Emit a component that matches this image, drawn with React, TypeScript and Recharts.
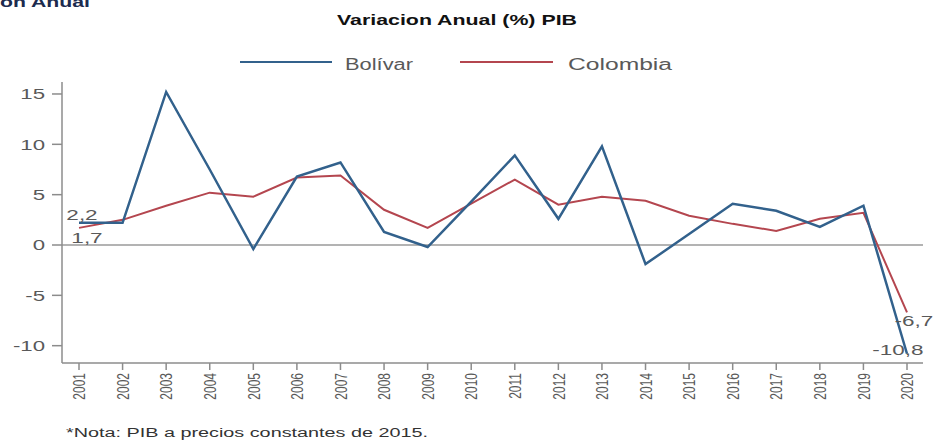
import React from 'react';
import { LineChart, Line, XAxis, YAxis, ReferenceLine, LabelList } from 'recharts';

const years = ['2001','2002','2003','2004','2005','2006','2007','2008','2009','2010','2011','2012','2013','2014','2015','2016','2017','2018','2019','2020'];
const bolivar = [2.2, 2.2, 15.2, 7.5, -0.4, 6.8, 8.2, 1.3, -0.2, 4.3, 8.9, 2.6, 9.8, -1.9, 1.1, 4.1, 3.4, 1.8, 3.9, -10.8];
const colombia = [1.7, 2.5, 3.9, 5.2, 4.8, 6.7, 6.9, 3.5, 1.7, 4.1, 6.5, 4.0, 4.8, 4.4, 2.9, 2.1, 1.4, 2.6, 3.2, -6.7];
const yTicks = [-10, -5, 0, 5, 10, 15];
const seriesNames = ['Bolívar', 'Colombia'];
const title = 'Variacion Anual (%) PIB';
const header = 'on Anual';
const note = '*Nota: PIB a precios constantes de 2015.';

const data = years.map((y, i) => ({ year: y, bolivar: bolivar[i], colombia: colombia[i] }));

const FONT = '"Liberation Sans", Arial, sans-serif';
const TXT = '#595959';
const AXIS = '#8c8c8c';
const BLUE = '#32618c';
const RED = '#b4464f';

const fmt = (v: number) => String(v).replace('.', ',');

const YTick = (props: any) => {
  const { x, y, payload } = props;
  return (
    <text transform={`translate(${x},${y}) scale(1.48,1)`} textAnchor="end" dy="0.36em"
      fontSize={15} fill={TXT} fontFamily={FONT}>{payload.value}</text>
  );
};

const XTick = (props: any) => {
  const { x, y, payload } = props;
  return (
    <text transform={`translate(${x},${y}) scale(1.43,1) rotate(-90)`} textAnchor="end" dy="0.36em"
      fontSize={12} fill={TXT} fontFamily={FONT}>{payload.value}</text>
  );
};

const makeLabel = (first: [number, number], last: [number, number]) => (props: any) => {
  const { x, y, index, value } = props;
  const n = years.length;
  if (index !== 0 && index !== n - 1) return null;
  const off = index === 0 ? first : last;
  return (
    <text transform={`translate(${x + off[0]},${y + off[1]}) scale(1.5,1)`} textAnchor="middle"
      fontSize={15} fill={TXT} fontFamily={FONT}>{fmt(value)}</text>
  );
};

export default function App() {
  return (
    <div style={{ position: 'absolute', left: 0, top: 0, width: 941, height: 440, background: '#fff' }}>
      <LineChart width={941} height={440} data={data} margin={{ top: 82, right: 18, bottom: 0, left: 0 }}>
        <XAxis dataKey="year" height={77} padding={{ left: 17, right: 16 }} interval={0}
          stroke={AXIS} strokeWidth={1.5} tickSize={7} tickMargin={3} tick={<XTick />} />
        <YAxis width={62} domain={[-11.72, 16.19]} ticks={yTicks} allowDataOverflow
          stroke={AXIS} strokeWidth={1.5} tickSize={10} tickMargin={7} tick={<YTick />} />
        <ReferenceLine y={0} stroke="#9a9a9a" strokeWidth={1.5} />
        <Line type="linear" dataKey="colombia" name={seriesNames[1]} stroke={RED} strokeWidth={2}
          dot={false} isAnimationActive={false}>
          <LabelList dataKey="colombia" content={makeLabel([8, 15], [7, 14])} />
        </Line>
        <Line type="linear" dataKey="bolivar" name={seriesNames[0]} stroke={BLUE} strokeWidth={2.5}
          dot={false} isAnimationActive={false}>
          <LabelList dataKey="bolivar" content={makeLabel([3, -3], [-9, 1])} />
        </Line>
      </LineChart>
      <svg width={941} height={440} style={{ position: 'absolute', left: 0, top: 0, pointerEvents: 'none' }}>
        <text x={0} y={7} fontSize={14} fontWeight="bold" fill="#1c2b4e" fontFamily={FONT}
          textLength={90} lengthAdjust="spacingAndGlyphs">{header}</text>
        <text x={337} y={25} fontSize={14} fontWeight="bold" fill="#111" fontFamily={FONT}
          textLength={240} lengthAdjust="spacingAndGlyphs">{title}</text>
        <line x1={240} y1={62} x2={332} y2={62} stroke={BLUE} strokeWidth={2} />
        <text x={345} y={70} fontSize={16} fill={TXT} fontFamily={FONT}
          textLength={68} lengthAdjust="spacingAndGlyphs">{seriesNames[0]}</text>
        <line x1={460} y1={62} x2={553} y2={62} stroke={RED} strokeWidth={2} />
        <text x={568} y={70} fontSize={16} fill={TXT} fontFamily={FONT}
          textLength={104} lengthAdjust="spacingAndGlyphs">{seriesNames[1]}</text>
        <text x={66} y={437} fontSize={12} fill="#333" fontFamily={FONT}
          textLength={362} lengthAdjust="spacingAndGlyphs">{note}</text>
      </svg>
    </div>
  );
}
